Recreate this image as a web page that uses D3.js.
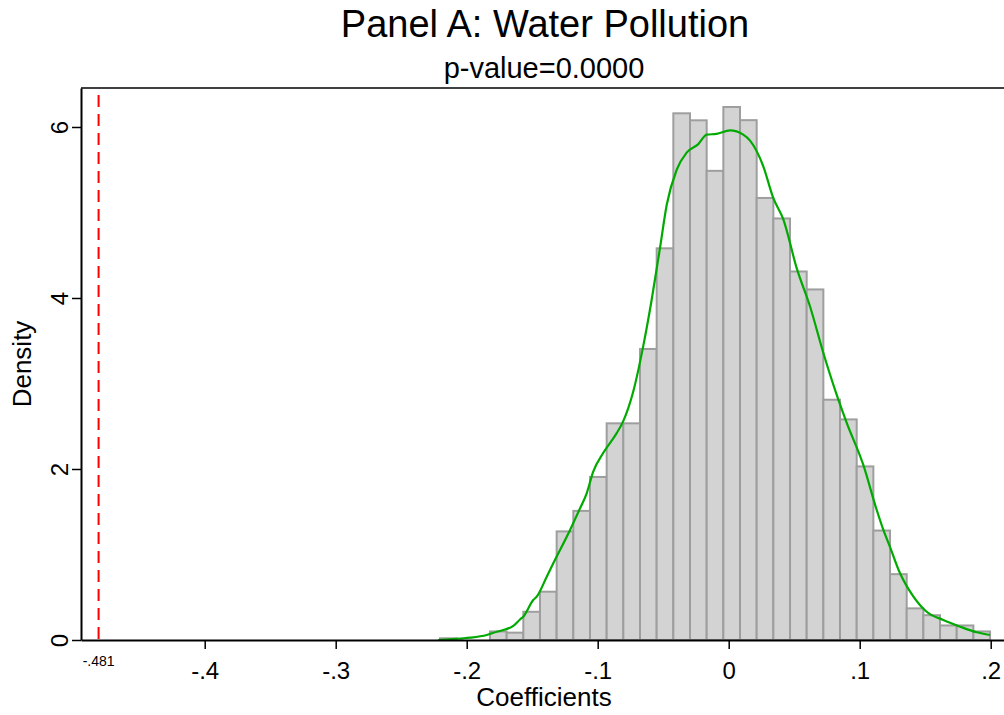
<!DOCTYPE html>
<html><head><meta charset="utf-8">
<script src="https://cdn.jsdelivr.net/npm/d3@7"></script>
<style>
body{margin:0;background:#fff}
svg{display:block}
text{font-family:"Liberation Sans",Arial,Helvetica,sans-serif;fill:#000}
</style>
</head><body>
<svg id="chart" width="1004" height="715"></svg>
<script>
// ---------- data ----------
const titleText = "Panel A: Water Pollution";
const subtitleText = "p-value=0.0000";
const xTitle = "Coefficients";
const yTitle = "Density";
const xTickValues = [-0.4, -0.3, -0.2, -0.1, 0, 0.1, 0.2];
const xTickLabels = ["-.4", "-.3", "-.2", "-.1", "0", ".1", ".2"];
const yTickValues = [0, 2, 4, 6];
const yTickLabels = ["0", "2", "4", "6"];
const observedCoef = -0.481;
const observedLabel = "-.481";

// histogram: 33 equal bins from binStart to binEnd, density heights
const binStart = -0.2204;
const binEnd = 0.1995;
const binDensity = [
  0.02, 0, 0, 0.10, 0.086, 0.33, 0.565, 1.27, 1.51, 1.907, 2.534,
  2.534, 3.404, 4.581, 6.16, 6.078, 5.487, 6.234, 6.08, 5.17, 4.93, 4.31,
  4.10, 2.81, 2.58, 2.03, 1.28, 0.77, 0.37, 0.29, 0.17, 0.17, 0.10
];

// kernel density curve
const kdeX = [
  -0.2217, -0.2102, -0.2026, -0.1975, -0.1847, -0.1771, -0.1721, -0.1644,
  -0.1593, -0.1568, -0.1492, -0.1466, -0.1389, -0.1339, -0.1211, -0.1135,
  -0.1084, -0.1034, -0.0957, -0.0855, -0.0805, -0.0728, -0.0652, -0.0588,
  -0.0524, -0.0473, -0.0397, -0.0321, -0.0232, -0.0168, -0.0092, 0.0010,
  0.0111, 0.0163, 0.0264, 0.0340, 0.0417, 0.0519, 0.0621, 0.0722,
  0.0824, 0.0901, 0.1027, 0.1130, 0.1180, 0.1231, 0.1308, 0.1409,
  0.1511, 0.1638, 0.1766, 0.1893, 0.1995
];
const kdeY = [
  0.000, 0.012, 0.020, 0.027, 0.058, 0.097, 0.117, 0.164,
  0.240, 0.273, 0.468, 0.506, 0.740, 0.897, 1.287, 1.540,
  1.716, 1.970, 2.190, 2.420, 2.560, 2.910, 3.440, 3.980,
  4.590, 5.090, 5.500, 5.700, 5.800, 5.910, 5.920, 5.960,
  5.910, 5.840, 5.540, 5.170, 4.920, 4.350, 3.900, 3.360,
  2.870, 2.540, 2.050, 1.520, 1.290, 1.090, 0.780, 0.510,
  0.330, 0.234, 0.156, 0.090, 0.058
];

// ---------- layout ----------
const plot = {left: 81, right: 1009, top: 88, bottom: 640};
const xDomain = [-0.49443, 0.21397];
const yDomain = [0, 6.456];

const svg = d3.select("#chart");
const x = d3.scaleLinear().domain(xDomain).range([plot.left, plot.right]);
const y = d3.scaleLinear().domain(yDomain).range([plot.bottom, plot.top]);

// bins
const nBins = binDensity.length;
const bw = (binEnd - binStart) / nBins;
const bins = binDensity.map((d, i) => ({x0: binStart + i * bw, x1: binStart + (i + 1) * bw, d}));

svg.append("g").selectAll("rect")
  .data(bins.filter(b => b.d > 0))
  .join("rect")
  .attr("x", b => x(b.x0))
  .attr("width", b => x(b.x1) - x(b.x0))
  .attr("y", b => y(b.d))
  .attr("height", b => y(0) - y(b.d))
  .attr("fill", "#d3d3d3")
  .attr("stroke", "#9e9e9e")
  .attr("stroke-width", 2);

// density curve
const kde = kdeX.map((v, i) => [v, kdeY[i]]);
svg.append("path")
  .datum(kde)
  .attr("fill", "none")
  .attr("stroke", "#00aa00")
  .attr("stroke-width", 2.2)
  .attr("d", d3.line().x(d => x(d[0])).y(d => y(d[1])).curve(d3.curveMonotoneX));

// observed coefficient line
svg.append("line")
  .attr("x1", x(observedCoef)).attr("x2", x(observedCoef))
  .attr("y1", plot.top + 7).attr("y2", plot.bottom)
  .attr("stroke", "#ff0000")
  .attr("stroke-width", 2)
  .attr("stroke-dasharray", "12,7");

// top border
svg.append("line")
  .attr("x1", plot.left).attr("x2", plot.right)
  .attr("y1", plot.top).attr("y2", plot.top)
  .attr("stroke", "#000").attr("stroke-width", 1.5);

// y axis
const yAxis = svg.append("g")
  .attr("transform", `translate(${plot.left},0)`)
  .call(d3.axisLeft(y).tickValues(yTickValues).tickSize(9).tickSizeOuter(0)
    .tickFormat((d, i) => yTickLabels[i]));
yAxis.select(".domain").attr("stroke-width", 2);
yAxis.selectAll(".tick line").attr("stroke-width", 1.5);
yAxis.selectAll(".tick text")
  .attr("x", null).attr("dy", null)
  .attr("transform", "translate(-13,0) rotate(-90)")
  .attr("text-anchor", "middle")
  .style("font-size", "24px")
  .style("font-family", "'Liberation Sans', Arial, sans-serif")
  .attr("fill", "#000");

// x axis
const xAxis = svg.append("g")
  .attr("transform", `translate(0,${plot.bottom})`)
  .call(d3.axisBottom(x).tickValues(xTickValues).tickSize(9).tickSizeOuter(0)
    .tickFormat((d, i) => xTickLabels[i]));
xAxis.select(".domain").attr("stroke-width", 2);
xAxis.selectAll(".tick line").attr("stroke-width", 1.5);
xAxis.selectAll(".tick text")
  .attr("y", 39).attr("dy", null)
  .style("font-size", "24px")
  .style("font-family", "'Liberation Sans', Arial, sans-serif")
  .attr("fill", "#000");

// observed label
svg.append("text")
  .attr("x", x(observedCoef)).attr("y", 666)
  .attr("text-anchor", "middle")
  .style("font-size", "14px")
  .text(observedLabel);

// titles
svg.append("text")
  .attr("x", 545).attr("y", 37)
  .attr("text-anchor", "middle")
  .style("font-size", "38px")
  .text(titleText);
svg.append("text")
  .attr("x", 544).attr("y", 78)
  .attr("text-anchor", "middle")
  .style("font-size", "29px")
  .text(subtitleText);
svg.append("text")
  .attr("x", 544).attr("y", 706)
  .attr("text-anchor", "middle")
  .style("font-size", "26px")
  .text(xTitle);
svg.append("text")
  .attr("transform", `translate(31,${(plot.top + plot.bottom) / 2}) rotate(-90)`)
  .attr("text-anchor", "middle")
  .style("font-size", "26px")
  .text(yTitle);
</script>
</body></html>
